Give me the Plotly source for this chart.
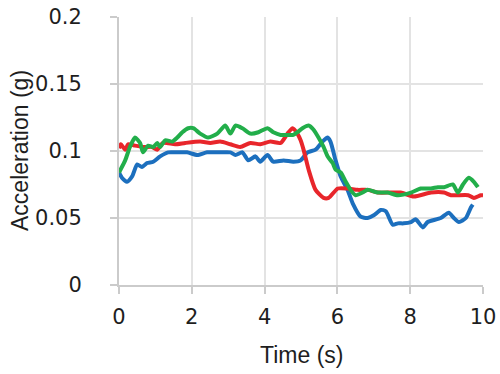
import plotly.graph_objects as go

red_t = [0, 0.05, 0.17, 0.25, 0.44, 0.72, 0.91, 1.05, 1.21, 1.54, 1.82, 2.23, 2.51, 2.78, 3.06, 3.33, 3.61,
         3.88, 4.16, 4.44, 4.63, 4.77, 4.90, 4.99, 5.07, 5.21, 5.40, 5.62, 5.76, 6.01, 6.28, 6.56, 6.83,
         7.11, 7.47, 7.74, 8.10, 8.57, 8.93, 9.12, 9.59, 9.75, 9.94, 10.0]
red_v = [0.102, 0.105, 0.101, 0.105, 0.104, 0.103, 0.103, 0.101, 0.106, 0.105, 0.106, 0.107, 0.106, 0.107,
         0.105, 0.103, 0.106, 0.105, 0.107, 0.106, 0.113, 0.117, 0.113, 0.108, 0.101, 0.086, 0.071, 0.065,
         0.065, 0.072, 0.072, 0.071, 0.071, 0.069, 0.069, 0.069, 0.066, 0.069, 0.069, 0.067, 0.067, 0.065,
         0.067, 0.067]

blue_t = [0, 0.08, 0.22, 0.36, 0.50, 0.63, 0.77, 0.94, 1.13, 1.35, 1.60, 1.87, 2.15, 2.42, 2.78, 3.06, 3.20,
          3.39, 3.55, 3.75, 3.88, 4.08, 4.24, 4.52, 4.79, 4.99, 5.18, 5.40, 5.59, 5.73, 5.81, 5.95, 6.09,
          6.28, 6.42, 6.64, 6.83, 7.00, 7.19, 7.33, 7.52, 7.66, 7.82, 8.02, 8.15, 8.35, 8.48, 8.84, 9.06,
          9.20, 9.34, 9.53, 9.67, 9.72]
blue_v = [0.084, 0.080, 0.077, 0.081, 0.090, 0.088, 0.091, 0.092, 0.096, 0.099, 0.099, 0.099, 0.097, 0.099,
          0.099, 0.099, 0.097, 0.099, 0.093, 0.096, 0.092, 0.097, 0.092, 0.093, 0.092, 0.093, 0.099, 0.101,
          0.107, 0.110, 0.107, 0.093, 0.081, 0.071, 0.061, 0.051, 0.050, 0.052, 0.056, 0.055, 0.045, 0.046,
          0.046, 0.047, 0.049, 0.043, 0.047, 0.050, 0.054, 0.050, 0.047, 0.050, 0.058, 0.060]

green_t = [0, 0.17, 0.30, 0.44, 0.58, 0.66, 0.80, 0.94, 1.05, 1.13, 1.27, 1.46, 1.60, 1.74, 1.90, 2.04, 2.23,
           2.45, 2.70, 2.92, 3.06, 3.20, 3.39, 3.61, 3.83, 4.08, 4.24, 4.44, 4.63, 4.79, 4.90, 5.04, 5.21,
           5.34, 5.48, 5.62, 5.73, 5.87, 5.95, 6.09, 6.23, 6.36, 6.50, 6.69, 6.83, 7.11, 7.38, 7.66, 8.02,
           8.29, 8.57, 8.76, 8.93, 9.17, 9.31, 9.45, 9.61, 9.75, 9.86]
green_v = [0.084, 0.093, 0.103, 0.110, 0.106, 0.099, 0.104, 0.103, 0.106, 0.103, 0.108, 0.107, 0.110, 0.114,
           0.117, 0.117, 0.113, 0.110, 0.113, 0.119, 0.113, 0.119, 0.117, 0.113, 0.114, 0.117, 0.114, 0.112,
           0.112, 0.112, 0.114, 0.117, 0.119, 0.116, 0.110, 0.103, 0.096, 0.091, 0.086, 0.084, 0.077, 0.071,
           0.067, 0.069, 0.071, 0.069, 0.069, 0.067, 0.069, 0.072, 0.072, 0.073, 0.073, 0.075, 0.069, 0.075,
           0.080, 0.077, 0.073]

x_ticks = [0, 2, 4, 6, 8, 10]
y_ticks = [0, 0.05, 0.1, 0.15, 0.2]
y_tick_text = ["0", "0.05", "0.1", "0.15", "0.2"]
x_title = "Time (s)"
y_title = "Acceleration (g)"

TICK_FONT = dict(family="DejaVu Sans", size=21, color="#1e1e1e")
TITLE_FONT = dict(family="Liberation Sans", size=23, color="#1e1e1e")

fig = go.Figure()
for t, v, c in [(blue_t, blue_v, "#1c6fbe"), (red_t, red_v, "#e8262b"), (green_t, green_v, "#22ae4a")]:
    fig.add_trace(go.Scatter(x=t, y=v, mode="lines", line=dict(color=c, width=4, shape="spline", smoothing=0.6),
                             showlegend=False, hoverinfo="skip"))

fig.update_layout(
    width=500, height=374,
    margin=dict(l=119, r=17, t=17, b=89),
    paper_bgcolor="white", plot_bgcolor="white",
)
common = dict(showgrid=True, gridcolor="#e3e3e3", gridwidth=2, showline=True, linecolor="#cbcbcb", linewidth=2,
              ticks="outside", ticklen=7, tickwidth=2, tickcolor="#cbcbcb", zeroline=False,
              tickfont=TICK_FONT, automargin=False)
fig.update_xaxes(range=[0, 10], tickvals=x_ticks, ticklabelstandoff=5, **common)
fig.update_yaxes(range=[0, 0.2], tickvals=y_ticks, ticktext=y_tick_text, ticklabelstandoff=24, **common)

fig.add_annotation(text=x_title, xref="paper", yref="paper", x=0.5, y=0, xanchor="center", yanchor="middle",
                   yshift=-70, showarrow=False, font=TITLE_FONT)
fig.add_annotation(text=y_title, xref="paper", yref="paper", x=0, y=0.5, xanchor="center", yanchor="middle",
                   xshift=-99, textangle=-90, showarrow=False, font=TITLE_FONT)

fig.write_html("out.html", config={"displayModeBar": False},
               post_script="document.body.style.margin='0';")
